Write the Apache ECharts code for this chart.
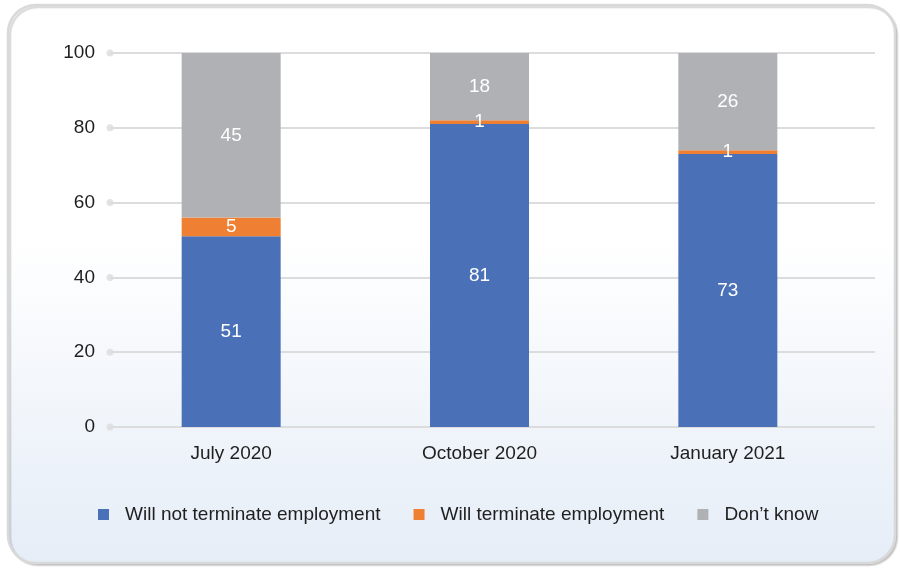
<!DOCTYPE html>
<html>
<head>
<meta charset="utf-8">
<script src="https://cdn.jsdelivr.net/npm/echarts@6/dist/echarts.min.js"></script>
<style>
  html, body { margin: 0; padding: 0; background: #ffffff; }
  #chart { width: 900px; height: 572px; }
</style>
</head>
<body>
<div id="chart"></div>
<script>
// Survey periods
const categories = ['July 2020', 'October 2020', 'January 2021'];
// Share of respondents (%)
const willNotTerminate = [51, 81, 73];
const willTerminate = [5, 1, 1];
const dontKnow = [45, 18, 26];
// Value axis ticks
const yTicks = [0, 20, 40, 60, 80, 100];

const FONT = '"Liberation Sans", Arial, sans-serif';
const chart = echarts.init(document.getElementById('chart'), null, { renderer: 'canvas' });

const barLabel = {
  show: true,
  position: 'inside',
  color: '#ffffff',
  fontSize: 19,
  fontFamily: FONT
};

function barSeries(name, data, color) {
  return {
    name: name,
    type: 'bar',
    stack: 'total',
    xAxisIndex: 1,
    yAxisIndex: 1,
    barWidth: 99,
    data: data,
    itemStyle: { color: color },
    label: barLabel,
    emphasis: { disabled: true },
    animation: false
  };
}

chart.setOption({
  backgroundColor: '#ffffff',
  animation: false,
  textStyle: { fontFamily: FONT },
  graphic: [{
    type: 'rect',
    z: -10,
    silent: true,
    shape: { x: 8, y: 5, width: 887, height: 558, r: 28 },
    style: {
      fill: new echarts.graphic.LinearGradient(0, 0, 0, 1, [
        { offset: 0, color: '#ffffff' },
        { offset: 0.42, color: '#ffffff' },
        { offset: 1, color: '#e5edf7' }
      ]),
      stroke: '#d9d9d9',
      lineWidth: 2.5,
      shadowColor: 'rgba(0,0,0,0.15)',
      shadowBlur: 1,
      shadowOffsetX: 2,
      shadowOffsetY: 2
    }
  }],
  grid: [
    // gridlines + value labels
    { left: 110, right: 25, top: 53, bottom: 145 },
    // bars + category labels
    { left: 107, right: 48, top: 53, bottom: 145 }
  ],
  xAxis: [
    { type: 'value', gridIndex: 0, min: 0, max: 1, show: false },
    {
      type: 'category', gridIndex: 1, data: categories,
      axisLine: { show: false }, axisTick: { show: false },
      axisLabel: { color: '#1f1f1f', fontSize: 19, fontFamily: FONT, margin: 17 }
    }
  ],
  yAxis: [
    {
      type: 'value', gridIndex: 0, min: 0, max: 100, interval: 20,
      axisLine: { show: false }, axisTick: { show: false },
      axisLabel: { color: '#1f1f1f', fontSize: 19, fontFamily: FONT, margin: 15 },
      splitLine: { show: true, lineStyle: { color: '#dcdcdc', width: 2 } }
    },
    {
      type: 'value', gridIndex: 1, min: 0, max: 100, interval: 20,
      show: false, splitLine: { show: false }
    }
  ],
  legend: {
    left: 93,
    top: 500,
    itemWidth: 11,
    itemHeight: 11,
    itemGap: 33,
    icon: 'rect',
    textStyle: { color: '#1f1f1f', fontSize: 19, fontFamily: FONT, padding: [0, 0, 0, 11] },
    data: ['Will not terminate employment', 'Will terminate employment', 'Don\u2019t know'],
    selectedMode: false
  },
  series: [
    {
      type: 'scatter',
      xAxisIndex: 0,
      yAxisIndex: 0,
      symbol: 'circle',
      symbolSize: 7,
      clip: false,
      silent: true,
      itemStyle: { color: '#dcdcdc' },
      data: yTicks.map(v => [0, v]),
      z: 1
    },
    barSeries('Will not terminate employment', willNotTerminate, '#4a71b7'),
    barSeries('Will terminate employment', willTerminate, '#ef7f32'),
    barSeries('Don\u2019t know', dontKnow, '#b0b1b4')
  ]
});
</script>
</body>
</html>
